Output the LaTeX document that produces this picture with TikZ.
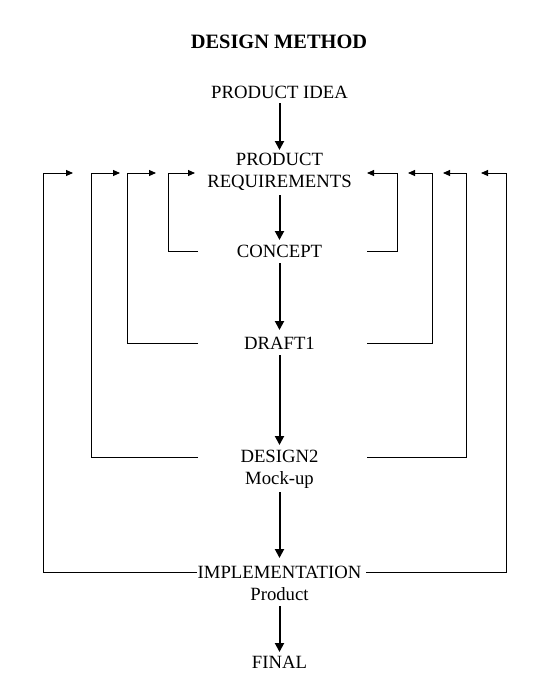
\documentclass[tikz,border=0pt]{standalone}
\usepackage{fontspec}
\setmainfont{Liberation Serif}
\usetikzlibrary{arrows.meta,calc}
\begin{document}
\begin{tikzpicture}[x=1pt,y=-1pt,
  lbl/.style={font=\fontsize{18.7}{22}\selectfont, align=center, inner sep=0pt},
  mainarrow/.style={line width=2pt, -{Triangle[length=9pt,width=9pt]}},
  fb/.style={line width=0.9pt, -{Triangle[length=7pt,width=6pt]}}]
\useasboundingbox (0,0) rectangle (555,680);
\node[lbl, font=\bfseries\fontsize{20.4}{24}\selectfont] (title) at (279,42) {DESIGN METHOD};
\node[lbl] (idea) at (279.5,92) {PRODUCT IDEA};
\node[lbl] (req) at (279.5,172) {PRODUCT\\REQUIREMENTS};
\node[lbl] (concept) at (279.5,251) {CONCEPT};
\node[lbl] (draft) at (279.5,343) {DRAFT1};
\node[lbl] (design) at (279.5,469) {DESIGN2\\Mock-up};
\node[lbl] (impl) at (279.5,583) {IMPLEMENTATION\\Product};
\node[lbl] (final) at (279.5,662) {FINAL};
% main flow
\draw[mainarrow] ($(idea.center)+(0,11)$) -- ($(req.center)+(0,-22)$);
\draw[mainarrow] ($(req.center)+(0,23)$) -- ($(concept.center)+(0,-11)$);
\draw[mainarrow] ($(concept.center)+(0,12)$) -- ($(draft.center)+(0,-13)$);
\draw[mainarrow] ($(draft.center)+(0,12)$) -- ($(design.center)+(0,-24)$);
\draw[mainarrow] ($(design.center)+(0,23)$) -- ($(impl.center)+(0,-25)$);
\draw[mainarrow] ($(impl.center)+(0,23)$) -- ($(final.center)+(0,-10)$);
% feedback loops, left
\draw[fb] ($(concept.center)+(-81.5,0)$) -| ($(req.center)+(-111.5,1)$) -- ($(req.center)+(-84.5,1)$);
\draw[fb] ($(draft.center)+(-81.5,0)$) -| ($(req.center)+(-152.5,1)$) -- ($(req.center)+(-123.5,1)$);
\draw[fb] ($(design.center)+(-81.5,-12)$) -| ($(req.center)+(-188.5,1)$) -- ($(req.center)+(-159.5,1)$);
\draw[fb] ($(impl.center)+(-82.5,-11)$) -| ($(req.center)+(-236.5,1)$) -- ($(req.center)+(-206.5,1)$);
% feedback loops, right
\draw[fb] ($(concept.center)+(87.5,0)$) -| ($(req.center)+(117.5,1)$) -- ($(req.center)+(87.5,1)$);
\draw[fb] ($(draft.center)+(87.5,0)$) -| ($(req.center)+(152.5,1)$) -- ($(req.center)+(128.5,1)$);
\draw[fb] ($(design.center)+(87.5,-12)$) -| ($(req.center)+(186.5,1)$) -- ($(req.center)+(163.5,1)$);
\draw[fb] ($(impl.center)+(86.5,-11)$) -| ($(req.center)+(226.5,1)$) -- ($(req.center)+(201.5,1)$);
\end{tikzpicture}
\end{document}
